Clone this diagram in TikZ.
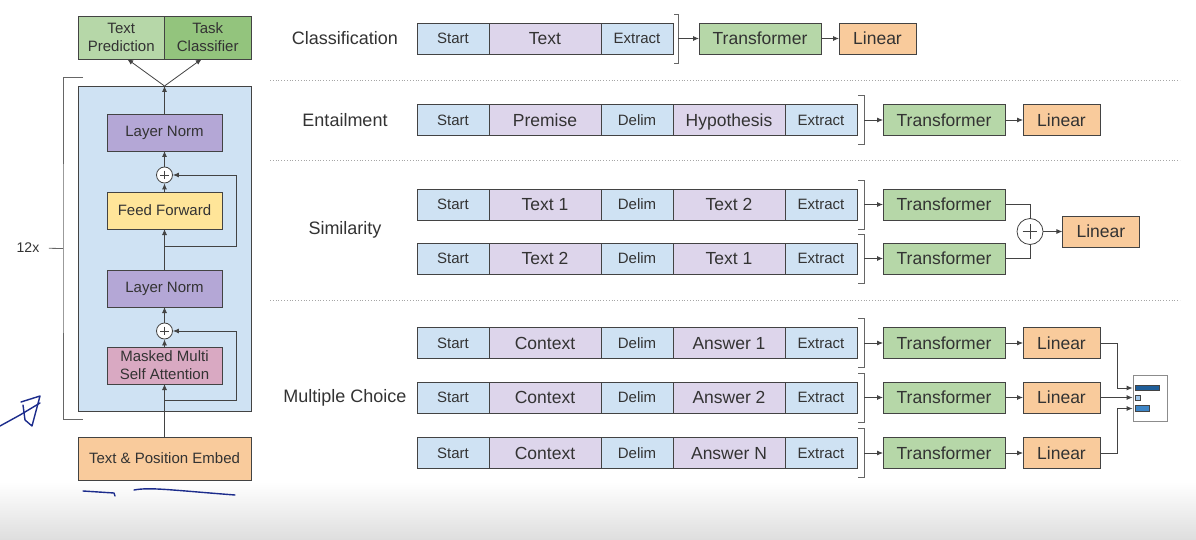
\documentclass[tikz,border=0pt]{standalone}
\usepackage{fontspec}
\setmainfont{Liberation Sans}
\usepackage{xcolor}
\usetikzlibrary{positioning,arrows.meta,calc}

\definecolor{edge}{HTML}{434343}
\definecolor{ink}{HTML}{333333}
\definecolor{tokblue}{HTML}{CFE2F3}
\definecolor{txtpurple}{HTML}{DDD5EB}
\definecolor{tfmgreen}{HTML}{B6D7A8}
\definecolor{linorange}{HTML}{F9CB9C}
\definecolor{lnpurple}{HTML}{B4A7D6}
\definecolor{ffyellow}{HTML}{FFE599}
\definecolor{attnpink}{HTML}{D9A9C2}
\definecolor{predgreen}{HTML}{B6D7A8}
\definecolor{clsgreen}{HTML}{93C47D}
\definecolor{pen}{HTML}{1C2C8C}
\definecolor{bardark}{HTML}{1F5E99}
\definecolor{barmid}{HTML}{3D85C6}
\definecolor{barlight}{HTML}{9FC5E8}

\tikzset{
  box/.style={draw=edge, line width=0.8pt, inner sep=0pt, outer sep=0pt, text=ink},
  tok/.style={box, fill=tokblue, minimum width=72pt, minimum height=31pt,
    text height=10.7pt, text depth=0pt, font=\fontsize{15}{18}\selectfont},
  txt/.style={box, fill=txtpurple, minimum width=112pt, minimum height=31pt,
    text height=12.5pt, text depth=0pt, font=\fontsize{17.5}{21}\selectfont},
  tfm/.style={box, fill=tfmgreen, minimum width=122pt, minimum height=31pt,
    text height=12.5pt, text depth=0pt, font=\fontsize{17.5}{21}\selectfont},
  lin/.style={box, fill=linorange, minimum width=77pt, minimum height=31pt,
    text height=12.5pt, text depth=0pt, font=\fontsize{17.5}{21}\selectfont},
  layer/.style={box, minimum width=115pt, minimum height=37pt, align=center, font=\fontsize{15}{18}\selectfont},
  task/.style={layer, minimum width=86.5pt, minimum height=43pt},
  tasklabel/.style={text=ink, font=\fontsize{18}{21}\selectfont},
  add/.style={circle, draw=edge, fill=white, line width=0.8pt, inner sep=0pt, minimum size=#1,
    path picture={
      \draw[edge, line width=0.9pt]
        ($(path picture bounding box.west)!0.22!(path picture bounding box.east)$) --
        ($(path picture bounding box.west)!0.78!(path picture bounding box.east)$)
        ($(path picture bounding box.north)!0.22!(path picture bounding box.south)$) --
        ($(path picture bounding box.north)!0.78!(path picture bounding box.south)$);}},
  add/.default=16pt,
  arr/.style={draw=edge, line width=0.8pt, -{Latex[length=6pt,width=5pt]}},
  link/.style={draw=edge, line width=0.8pt},
  brk/.style={draw=black!60, line width=0.8pt},
  sep/.style={draw=black!35, line width=0.8pt, dotted},
  scribble/.style={draw=pen, line width=1.4pt, line cap=round, line join=round},
}

\begin{document}
\begin{tikzpicture}[x=1pt, y=-1pt]

  % Canvas
  \useasboundingbox (0,0) rectangle (1196,540);
  \fill[white] (0,0) rectangle (1196,540);
  \shade[top color=white, bottom color=black!13] (0,482) rectangle (1196,540);

  % Transformer block
  \node[layer, fill=tokblue, minimum width=173pt, minimum height=325pt] (block) at (164.5,248.5) {};
  \node[layer, fill=lnpurple] (ln1) at (164.5,132.5) {Layer Norm};
  \node[add] (add1) at (164.5,175) {};
  \node[layer, fill=ffyellow] (ff) at (164.5,210.5) {Feed Forward};
  \node[layer, fill=lnpurple] (ln2) at (164.5,288.5) {Layer Norm};
  \node[add] (add2) at (164.5,331) {};
  \node[layer, fill=attnpink] (attn) at (164.5,365.5) {Masked Multi\\Self Attention};
  \node[layer, fill=linorange, minimum width=173pt, minimum height=43pt] (embed) at (164.5,458.5) {Text \& Position Embed};
  \node[task, fill=predgreen] (pred) at (121.25,37.5) {Text\\Prediction};
  \node[task, fill=clsgreen, right=0pt of pred] (taskcls) {Task\\Classifier};

  % Flow through the block
  \draw[arr] (embed) -- (attn);
  \draw[arr] (attn) -- (add2);
  \draw[arr] (add2) -- (ln2);
  \draw[arr] (ln2) -- (ff);
  \draw[arr] (ff) -- (add1);
  \draw[arr] (add1) -- (ln1);
  \draw[arr] (ln1) -- (block.north);
  \draw[arr] (block.north) -- ([xshift=6pt]pred.south);
  \draw[arr] (block.north) -- ([xshift=-6pt]taskcls.south);

  % Residuals
  \coordinate (res1) at (164.5,246);
  \coordinate (res2) at (164.5,400);
  \draw[arr] (res1) -- ++(71.5,0) |- (add1);
  \draw[arr] (res2) -- ++(71.5,0) |- (add2);

  % Repeat bracket
  \draw[brk] ([xshift=5pt,yshift=9pt]block.north west) -| ([xshift=-15pt]block.west)
    |- ([xshift=5pt,yshift=-8pt]block.south west);
  \coordinate (brkmid) at ([xshift=-15pt]block.west);
  \node[text=ink, font=\fontsize{14}{16}\selectfont] (rep) at (28,248) {12x};
  \draw[brk, shorten <=6pt] (rep) -- (brkmid);

  % Task labels
  \node[tasklabel] (lcls) at (345,38.5) {Classification};
  \node[tasklabel] (lent) at (345,120) {Entailment};
  \node[tasklabel] (lsim) at (345,230) {Similarity};
  \node[tasklabel] (lmc) at (345,398) {Multiple Choice};

  % Separators
  \foreach \y in {80,160,300}
    \draw[sep] (270,\y) -- (1180,\y);

  % Classification
  \node[tok, anchor=west] (cls-s) at (417,38.5) {Start};
  \node[txt, right=0pt of cls-s] (cls-a) {Text};
  \node[tok, right=0pt of cls-a] (cls-e) {Extract};
  \draw[brk] ([xshift=1pt,yshift=9pt]cls-e.north east) -| ([xshift=5pt,yshift=-9pt]cls-e.south east) -- ++(-4pt,0);
  \coordinate (cls-bm) at ([xshift=5pt]cls-e.east);
  \node[tfm, right=21pt of cls-bm] (cls-t) {Transformer};
  \node[lin, right=18pt of cls-t] (cls-l) {Linear};
  \draw[arr] (cls-bm) -- (cls-t);
  \draw[arr] (cls-t) -- (cls-l);

  % Five-part inputs
  \foreach \n/\y/\a/\b in {ent/120/Premise/Hypothesis, sim1/204.5/Text 1/Text 2, sim2/258.5/Text 2/Text 1,
                           mc1/343/Context/Answer 1, mc2/397.5/Context/Answer 2, mc3/453/Context/Answer N} {
    \node[tok, anchor=west] (\n-s) at (417,\y) {Start};
    \node[txt, right=0pt of \n-s] (\n-a) {\a};
    \node[tok, right=0pt of \n-a] (\n-d) {Delim};
    \node[txt, right=0pt of \n-d] (\n-b) {\b};
    \node[tok, right=0pt of \n-b] (\n-e) {Extract};
    \draw[brk] ([xshift=1pt,yshift=9pt]\n-e.north east) -| ([xshift=7pt,yshift=-9pt]\n-e.south east) -- ++(-6pt,0);
    \coordinate (\n-bm) at ([xshift=7pt]\n-e.east);
    \node[tfm, right=19pt of \n-bm] (\n-t) {Transformer};
    \draw[arr] (\n-bm) -- (\n-t);
  }

  % Linear heads
  \foreach \n in {ent,mc1,mc2,mc3} {
    \node[lin, right=18pt of \n-t] (\n-l) {Linear};
    \draw[arr] (\n-t) -- (\n-l);
  }

  % Similarity merge
  \node[add=26pt] (simadd) at (1030,231.5) {};
  \node[lin, right=19pt of simadd] (sim-l) {Linear};
  \draw[link] (sim1-t.east) -| (simadd);
  \draw[link] (sim2-t.east) -| (simadd);
  \draw[arr] (simadd) -- (sim-l);

  % Multiple choice scores
  \node[draw=black!45, line width=0.8pt, fill=white, minimum width=34pt, minimum height=46pt] (score) at (1150,398) {};
  \filldraw[draw=edge, fill=bardark, line width=0.5pt] (1135,385) rectangle (1159,390.5);
  \filldraw[draw=edge, fill=barlight, line width=0.5pt] (1135,395.5) rectangle (1140,400.5);
  \filldraw[draw=edge, fill=barmid, line width=0.5pt] (1135,405.5) rectangle (1149,411.5);
  \draw[arr] (mc1-l.east) -- ++(17,0) |- ([yshift=10pt]score.west);
  \draw[arr] (mc2-l.east) -- (mc2-l.east -| score.west);
  \draw[arr] (mc3-l.east) -- ++(17,0) |- ([yshift=-10.5pt]score.west);

  % Pen marks
  \draw[scribble] (0,426) -- (20,415) -- (40,403);
  \draw[scribble] (21,402) -- (40,396) -- (32,426) -- (25,420) -- (23,405);
  \draw[scribble] (83,491) -- (114,493) -- (115,496);
  \draw[scribble] (134,490) .. controls (150,487) and (170,490) .. (235,495);

\end{tikzpicture}
\end{document}
